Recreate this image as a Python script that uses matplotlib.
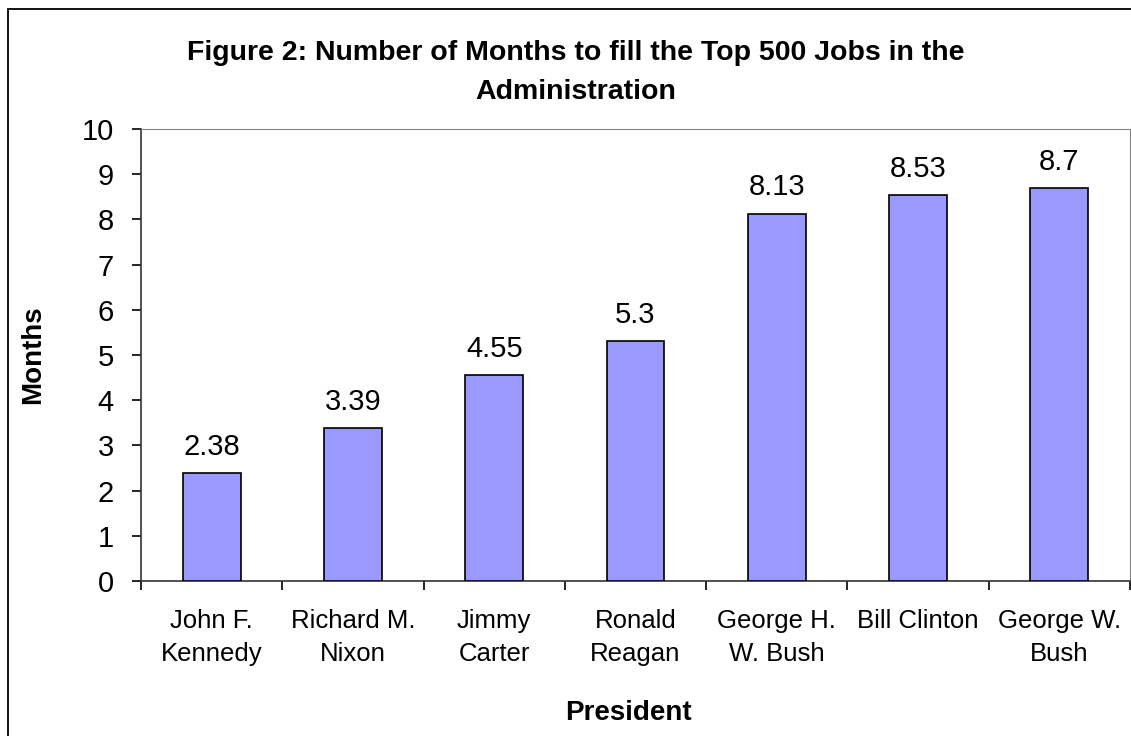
import matplotlib.pyplot as plt
from matplotlib.patches import Rectangle
from matplotlib.transforms import blended_transform_factory

presidents = ["John F.\nKennedy", "Richard M.\nNixon", "Jimmy\nCarter", "Ronald\nReagan",
              "George H.\nW. Bush", "Bill Clinton", "George W.\nBush"]
months = [2.38, 3.39, 4.55, 5.3, 8.13, 8.53, 8.7]
value_labels = ["2.38", "3.39", "4.55", "5.3", "8.13", "8.53", "8.7"]

plt.rcParams['font.family'] = ['Liberation Sans', 'DejaVu Sans']

W, H = 1131, 736
fig = plt.figure(figsize=(W / 100, H / 100), dpi=100)
ax = fig.add_axes([141 / W, 1 - 581 / H, 989 / W, 452 / H])

# outer chart border (runs off the right and bottom edge)
fig.patches.append(Rectangle((8 / W, -0.1), 1.2, 1 - 9 / H + 0.1, transform=fig.transFigure,
                             fill=False, edgecolor="black", lw=1.3))

x = list(range(len(presidents)))
ax.bar(x, months, width=0.41, color="#9999ff", edgecolor="black", lw=1.2, zorder=3)
for xi, v, lab in zip(x, months, value_labels):
    ax.annotate(lab, (xi, v), xytext=(0, 13), textcoords="offset points",
                ha="center", va="baseline", fontsize=21)

ax.set_xlim(-0.5, len(presidents) - 0.5)
ax.set_ylim(0, 10)
ax.set_yticks(range(0, 11))
ax.tick_params(axis="y", labelsize=21, direction="out", length=6.5, width=1.2, pad=13)

# category ticks between bars, labels placed by hand below
ax.set_xticks([i - 0.5 for i in range(len(presidents) + 1)])
ax.set_xticklabels([])
ax.tick_params(axis="x", direction="out", length=6.5, width=1.2)
trans = blended_transform_factory(ax.transData, fig.transFigure)
for xi, name in zip(x, presidents):
    for k, ln in enumerate(name.split("\n")):
        ax.text(xi, 1 - (628 + 33 * k) / H, ln, ha="center", va="baseline",
                fontsize=18.5, transform=trans)

for side in ["top", "right"]:
    ax.spines[side].set_color("#808080")
for side in ["left", "bottom"]:
    ax.spines[side].set_color("#333333")
    ax.spines[side].set_linewidth(1.2)

fig.text(33 / W, 1 - 355 / H, "Months", rotation=90, ha="center", va="center",
         fontsize=20, fontweight="bold")
fig.text(628 / W, 1 - 720 / H, "President", ha="center", va="baseline", fontsize=20, fontweight="bold")
fig.text(576 / W, 1 - 60 / H, "Figure 2: Number of Months to fill the Top 500 Jobs in the",
         ha="center", va="baseline", fontsize=20.5, fontweight="bold")
fig.text(576 / W, 1 - 99 / H, "Administration",
         ha="center", va="baseline", fontsize=20.5, fontweight="bold")

fig.savefig("out.png", dpi=100)
